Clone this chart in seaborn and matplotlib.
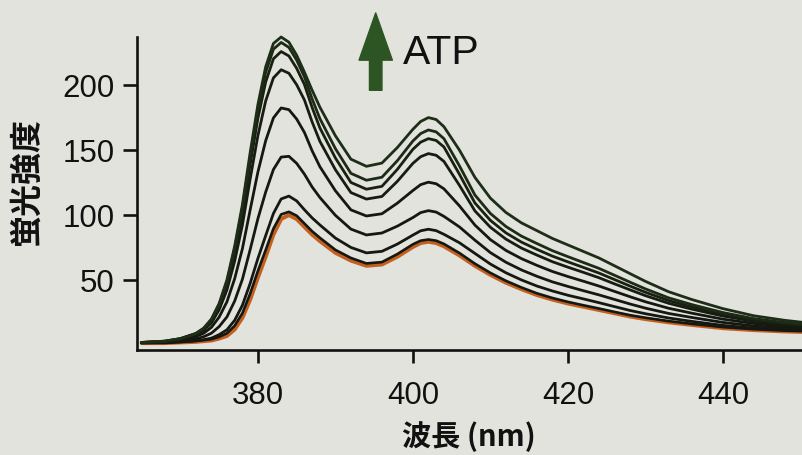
import matplotlib
matplotlib.use("Agg")
import matplotlib.pyplot as plt
import numpy as np
import pandas as pd
import seaborn as sns

# ---------------- data ----------------
wavelength = [365, 368, 370, 372, 373, 374, 375, 376, 377, 378, 379, 380, 381, 382,
              383, 384, 385, 386, 387, 388, 390, 392, 394, 396, 398, 400, 401, 402,
              403, 404, 406, 408, 410, 412, 414, 416, 418, 420, 422, 424, 426, 428,
              430, 433, 436, 440, 444, 448, 451]

# lowest curve (no ATP, orange)
curve_1 = [1.5, 1.5, 2, 2.5, 3, 3.5, 5, 7, 12, 21, 35, 52, 68, 85,
           97, 100, 97, 91, 85, 80, 71, 65, 61, 62, 68, 75.5, 78.5, 79.5,
           78.5, 76, 69, 61, 54, 48, 43, 38.5, 35, 32, 29.5, 27, 24.5, 22,
           20, 17.5, 15.5, 13, 11.5, 10.5, 10]
curve_2 = [2.0, 2.0, 2.5, 3.2, 3.8, 4.5, 6.3, 9.0, 14.8, 24.5, 39.5, 57, 73, 89.5,
           100.5, 102.5, 99.5, 93.5, 87.5, 82.5, 73.2, 67, 62.8, 63.8, 70, 77.5, 80.3, 81.2,
           80.3, 77.8, 70.8, 62.6, 55.5, 49.4, 44.3, 39.8, 36.2, 33.2, 30.6, 28.1, 25.5, 23,
           21, 18.4, 16.3, 13.8, 12.2, 11.1, 10.6]
curve_3 = [1.6, 1.7, 2.3, 3.2, 4.1, 5.3, 8.0, 11.7, 19.0, 30.6, 47.4, 66.6, 84.1, 101.2,
           112.4, 114.6, 110.9, 104.1, 97.8, 92.4, 82.3, 75.1, 70.9, 72.1, 77.7, 84.6, 87.9, 89.1,
           88.0, 85.2, 78.7, 70.5, 62.3, 55.6, 50.1, 45.4, 41.6, 38.3, 35.5, 32.6, 29.6, 26.6,
           24.1, 20.8, 18.2, 15.1, 13.0, 11.7, 11.0]
curve_4 = [1.7, 2.0, 3.0, 4.7, 6.4, 9.1, 14.2, 21.6, 33.8, 50.6, 73.4, 97.2, 117.6, 135.0,
           144.6, 145.2, 139.8, 131.5, 121.6, 113.5, 99.8, 89.2, 84.7, 86.2, 91.5, 98.1, 101.9, 103.4,
           102.3, 99.0, 90.9, 80.7, 71.1, 63.7, 57.8, 52.9, 48.6, 45.1, 41.8, 38.6, 35.1, 31.6,
           28.4, 24.3, 21.2, 17.4, 14.7, 13.0, 12.0]
curve_5 = [1.8, 2.4, 3.8, 6.5, 9.1, 13.6, 21.5, 33.2, 51.0, 74.1, 103.9, 133.1, 157.1, 174.7,
           182.4, 181.1, 173.9, 163.6, 149.4, 137.2, 118.7, 104.0, 99.3, 101.0, 109.2, 118.9, 123.4, 125.3,
           124.1, 120.2, 107.1, 92.3, 81.1, 72.8, 66.5, 61.3, 56.6, 52.7, 49.1, 45.4, 41.3, 37.2,
           33.3, 28.3, 24.5, 19.9, 16.6, 14.4, 13.2]
curve_6 = [1.9, 2.7, 4.5, 7.8, 11.2, 17.0, 27.1, 42.3, 64.5, 92.3, 127.7, 161.1, 187.7, 205.5,
           211.8, 209.1, 200.3, 188.6, 171.6, 156.7, 134.9, 117.3, 112.3, 114.3, 126.0, 139.8, 144.9, 147.3,
           146.0, 141.3, 122.9, 103.2, 90.6, 81.5, 74.6, 69.2, 64.1, 59.9, 55.9, 51.8, 47.1, 42.5,
           38.0, 32.1, 27.6, 22.3, 18.3, 15.8, 14.3]
curve_7 = [2.0, 2.9, 4.8, 8.5, 12.2, 18.7, 29.8, 46.6, 70.9, 101.0, 139.0, 174.4, 202.3, 220.2,
           225.8, 222.4, 212.9, 200.5, 182.7, 167.0, 143.9, 125.1, 119.9, 122.1, 135.2, 150.6, 156.1, 158.8,
           157.4, 152.4, 131.4, 109.3, 95.9, 86.3, 79.2, 73.6, 68.4, 64.0, 59.7, 55.4, 50.4, 45.4,
           40.6, 34.2, 29.3, 23.7, 19.3, 16.5, 15.0]
curve_8 = [2.0, 3.0, 4.9, 8.8, 12.7, 19.5, 31.2, 48.7, 74.1, 105.4, 144.6, 181.0, 209.6, 227.6,
           232.8, 229.0, 219.2, 206.4, 189.3, 174.2, 151.1, 132.1, 126.8, 129.1, 141.9, 157.0, 162.7, 165.5,
           164.0, 158.8, 137.9, 115.4, 101.2, 91.2, 83.8, 78.1, 72.6, 68.0, 63.5, 59.0, 53.7, 48.4,
           43.2, 36.3, 31.1, 25.0, 20.3, 17.3, 15.6]
# highest curve (max ATP)
curve_9 = [2, 3, 5, 9, 13, 20, 32, 50, 76, 108, 148, 185, 214, 232,
           237, 233, 223, 210, 196, 183, 161, 143, 137.5, 140, 152, 166, 172, 175,
           173.5, 168, 150, 129, 113, 102, 94, 88, 82, 77, 72, 67, 61, 55,
           49, 41, 35, 28, 22.5, 19, 17]

curve_names = ["c1", "c2", "c3", "c4", "c5", "c6", "c7", "c8", "c9"]
curves = [curve_1, curve_2, curve_3, curve_4, curve_5, curve_6, curve_7, curve_8, curve_9]
line_colors = ["#c4601f", "#141811", "#141811", "#141811", "#141811",
               "#161c12", "#18200f", "#1c2a16", "#1e2d18"]
line_widths = [2.9, 1.9, 2.0, 2.0, 2.0, 2.0, 2.0, 2.0, 2.0]

xticks = [380, 400, 420, 440]
yticks = [50, 100, 150, 200]

df = pd.DataFrame({
    "wavelength": np.tile(wavelength, len(curves)),
    "intensity": np.concatenate([np.asarray(c, float) for c in curves]),
    "curve": np.repeat(curve_names, len(wavelength)),
})

# ---------------- style ----------------
sns.set_style("ticks")
bg = "#e2e3dc"
plt.rcParams["font.family"] = ["Liberation Sans", "DejaVu Sans"]

fig = plt.figure(figsize=(8.02, 4.55), dpi=100, facecolor=bg)
ax = fig.add_axes([0.1708, 0.2308, 0.8292, 0.6879], facecolor=bg)

for name, col, lw in zip(curve_names, line_colors, line_widths):
    sub = df[df["curve"] == name]
    sns.lineplot(data=sub, x="wavelength", y="intensity", color=col, linewidth=lw,
                 estimator=None, ax=ax, clip_on=False, legend=False)

ax.set_xlim(364.4, 450.2)
ax.set_ylim(-3.8, 237)
ax.set_xticks(xticks)
ax.set_yticks(yticks)
ax.set_xlabel("")
ax.set_ylabel("")

for s in ["top", "right"]:
    ax.spines[s].set_visible(False)
for s in ["left", "bottom"]:
    ax.spines[s].set_linewidth(1.9)
    ax.spines[s].set_color("#111111")

ax.tick_params(axis="x", direction="out", length=9, width=1.9, pad=13,
               labelsize=22.5, colors="#111111")
ax.tick_params(axis="y", direction="out", length=10, width=1.9, pad=6,
               labelsize=22.5, colors="#111111")

cjk = ["Noto Sans CJK JP", "DejaVu Sans"]
fig.text(27 / 802, 1 - 182 / 455, "蛍光強度", rotation=90, ha="center", va="center",
         fontsize=23, fontweight="bold", family=cjk, color="#111111")
fig.text(469 / 802, 1 - 437 / 455, "波長 (nm)", ha="center", va="center",
         fontsize=21, fontweight="bold", family=cjk, color="#111111")

# ATP arrow and label
ax.annotate("", xy=(395.2, 255.5), xytext=(395.2, 196.0), xycoords="data",
            textcoords="data", annotation_clip=False,
            arrowprops=dict(arrowstyle="simple,head_length=3.4,head_width=2.4,tail_width=0.9",
                            mutation_scale=10, color="#2d5524", shrinkA=0, shrinkB=0))
ax.text(398.7, 216, "ATP", ha="left", va="baseline", fontsize=29.5, color="#111111",
        clip_on=False)

fig.savefig("out.png", dpi=100, facecolor=bg)
